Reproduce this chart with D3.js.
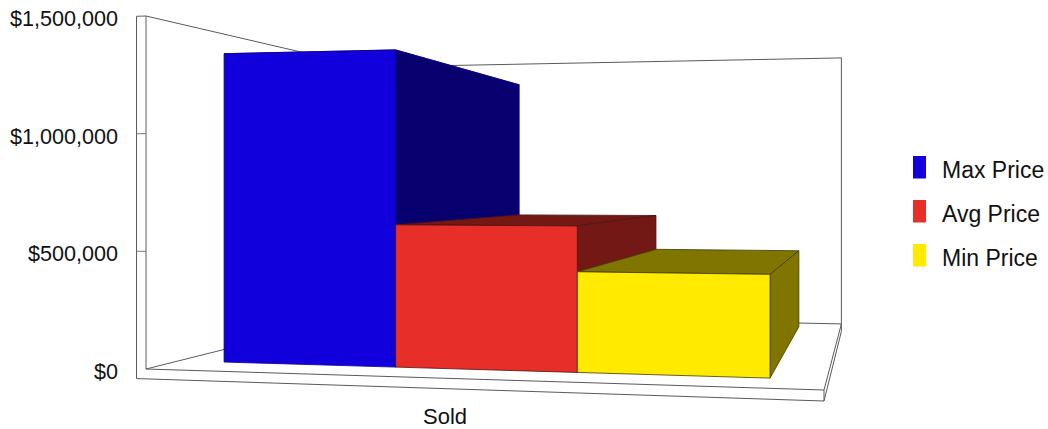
<!DOCTYPE html>
<html>
<head>
<meta charset="utf-8">
<style>
body { margin: 0; background: #fff; }
text { font-family: "Liberation Sans", Arial, sans-serif; fill: #111; }
</style>
<script src="https://cdn.jsdelivr.net/npm/d3@7"></script>
</head>
<body>
<div id="chart"></div>
<script>
// the data
var categories = ["Sold"];
var seriesNames = ["Max Price", "Avg Price", "Min Price"];
var soldValues = [1362000, 611000, 420000];
var yTicks = [0, 500000, 1000000, 1500000];

var frontColors = ["#1200dc", "#e82e28", "#ffea00"];
var sideColors = ["#08006e", "#741815", "#807500"];
var edgeColors = ["#0a0090", "#4a1512", "#3f3a10"];

var width = 1048, height = 429;

// corners of the plot box on the screen, the 3d view goes through these
var O = [146, 369], X = [824, 390], Y = [146, 16], Z = [366, 314];
var wx = 0.897, wz = 1.43;

// model coords run 0..1 on each axis, x across, y up, z into the page
function project(x, y, z) {
    var w = 1 + x * (wx - 1) + z * (wz - 1);
    return [0, 1].map(function(i) {
        return (O[i] + x * (wx * X[i] - O[i]) + y * (Y[i] - O[i]) + z * (wz * Z[i] - O[i])) / w;
    });
}

// set the ranges
var xBand = d3.scaleBand().domain(seriesNames).range([0, 0.997]).paddingInner(0).paddingOuter(0.272);
var yUnit = d3.scaleLinear().domain([0, 1500000]).range([0, 1]);
var zFront = 0.11, zBack = 0.92;
var wallT = 0.0156, floorT = 0.028;

var line = d3.line();

var svg = d3.select("#chart").append("svg")
    .attr("width", width)
    .attr("height", height)
    .style("display", "block");

function poly(pts) {
    return line(pts.map(function(p) { return project(p[0], p[1], p[2]); })) + "Z";
}

// walls and floor outline
var frame = [
    [[0, 1, 0], [0, 0, 0], [1, 0, 0]],
    [[0, 1, 0], [0, 1, 1], [1, 1, 1], [1, 0, 1]],
    [[0, 0, 0], [0, 0, 1], [1, 0, 1]],
    [[1, 0, 0], [1, 0, 1]],
    [[0, 1, 0], [-wallT, 1, 0], [-wallT, -floorT, 0], [1, -floorT, 0], [1, -floorT, 1], [1, 0, 1]],
    [[1, -floorT, 0], [1, 0, 0]]
];

svg.append("g").selectAll("path")
    .data(frame)
    .enter().append("path")
    .attr("fill", "none")
    .attr("stroke", "#5a5a5a")
    .attr("stroke-width", 1)
    .attr("d", function(d) {
        return line(d.map(function(p) { return project(p[0], p[1], p[2]); }));
    });

// tick marks across the wall edge
svg.append("g").selectAll("path")
    .data(yTicks.slice(1, 3))
    .enter().append("path")
    .attr("stroke", "#777")
    .attr("d", function(d) {
        return line([project(-wallT, yUnit(d), 0), project(0, yUnit(d), 0)]);
    });

// y labels
svg.append("g").selectAll("text")
    .data(yTicks)
    .enter().append("text")
    .attr("x", 118)
    .attr("y", function(d) { return project(0, yUnit(d), 0)[1] + 10; })
    .attr("text-anchor", "end")
    .style("font-size", "21.6px")
    .text(function(d) { return d3.format("$,")(d); });

// the bars, back to front is just left to right here
seriesNames.forEach(function(name, i) {
    var x0 = xBand(name), x1 = x0 + xBand.bandwidth(), h = yUnit(soldValues[i]);
    var g = svg.append("g").attr("stroke", edgeColors[i]).attr("stroke-width", 0.8).attr("stroke-linejoin", "round");
    g.append("path")
        .attr("fill", sideColors[i])
        .attr("d", poly([[x0, h, zFront], [x1, h, zFront], [x1, h, zBack], [x0, h, zBack]]));
    g.append("path")
        .attr("fill", sideColors[i])
        .attr("d", poly([[x1, 0, zFront], [x1, h, zFront], [x1, h, zBack], [x1, 0, zBack]]));
    g.append("path")
        .attr("fill", frontColors[i])
        .attr("d", poly([[x0, 0, zFront], [x1, 0, zFront], [x1, h, zFront], [x0, h, zFront]]));
});

// category label
svg.selectAll("text.cat")
    .data(categories)
    .enter().append("text")
    .attr("class", "cat")
    .attr("x", 445)
    .attr("y", 424)
    .attr("text-anchor", "middle")
    .style("font-size", "22px")
    .text(function(d) { return d; });

// legend
var legendY = d3.scalePoint().domain(seriesNames).range([156, 244]);

var legend = svg.append("g").selectAll("g")
    .data(seriesNames)
    .enter().append("g")
    .attr("transform", function(d) { return "translate(913," + legendY(d) + ")"; });

legend.append("rect")
    .attr("width", 13)
    .attr("height", 22.5)
    .attr("fill", function(d, i) { return frontColors[i]; });

legend.append("text")
    .attr("x", 29)
    .attr("y", 22)
    .style("font-size", "23px")
    .text(function(d) { return d; });
</script>
</body>
</html>
